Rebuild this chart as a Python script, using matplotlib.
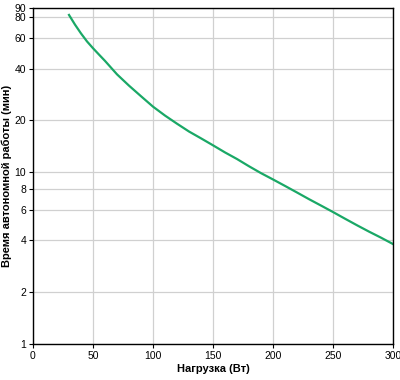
import numpy as np
import matplotlib
matplotlib.use('Agg')
import matplotlib.pyplot as plt
from matplotlib.ticker import FixedLocator, NullLocator

plt.rcParams['font.family'] = ['Liberation Sans', 'DejaVu Sans']

load_w = [30, 35, 40, 45, 50, 55, 60, 70, 80, 90, 100, 110, 120, 130, 140, 150,
          160, 170, 180, 190, 200, 210, 220, 230, 240, 250, 260, 270, 280, 290, 300]
runtime_min = [82, 72, 64, 57.5, 52.5, 48.2, 44.3, 37, 31.8, 27.6, 24, 21.3, 19.1, 17.2, 15.7, 14.3,
               13, 11.9, 10.8, 9.85, 9.05, 8.3, 7.6, 6.95, 6.38, 5.85, 5.35, 4.9, 4.5, 4.15, 3.81]

x_ticks = [0, 50, 100, 150, 200, 250, 300]
y_ticks = [1, 2, 4, 6, 8, 10, 20, 40, 60, 80, 90]

fig = plt.figure(figsize=(4, 3.8), dpi=100)
ax = fig.add_axes([0.0825, 0.095, 0.9, 0.884])
ax.plot(load_w, runtime_min, color='#1aa866', lw=1.6)
ax.set_yscale('log')
ax.set_xlim(0, 300)
ax.set_ylim(1, 90)
ax.xaxis.set_major_locator(FixedLocator(x_ticks))
ax.yaxis.set_major_locator(FixedLocator(y_ticks))
ax.yaxis.set_minor_locator(NullLocator())
ax.set_yticklabels([str(v) for v in y_ticks])
ax.grid(True, color='#d0d0d0', lw=0.9)
for s in ax.spines.values():
    s.set_color('black')
    s.set_linewidth(1.0)
ax.tick_params(labelsize=7.5, length=3, width=0.8, pad=2)
ax.set_xlabel('Нагрузка (Вт)', fontsize=8, fontweight='bold', labelpad=2)
ax.set_ylabel('Время автономной работы (мин)', fontsize=8, fontweight='bold', labelpad=2)
plt.savefig('out.png', dpi=100)
